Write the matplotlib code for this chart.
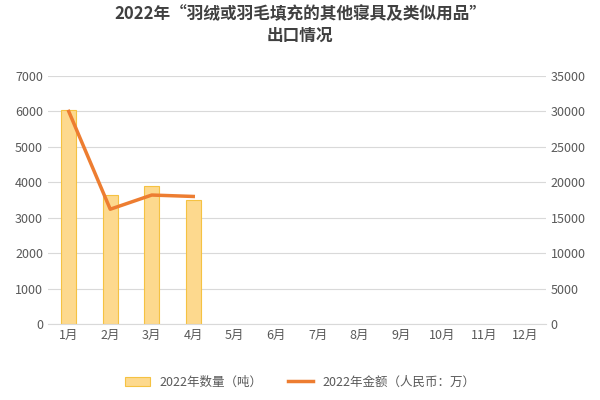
import matplotlib.pyplot as plt

plt.rcParams['font.family'] = ['Noto Sans CJK SC', 'DejaVu Sans']

months = ['1月', '2月', '3月', '4月', '5月', '6月', '7月', '8月', '9月', '10月', '11月', '12月']
qty = [6050, 3640, 3900, 3500]
amount = [30000, 16200, 18200, 18000]

fig = plt.figure(figsize=(6, 4), dpi=100)
ax = fig.add_axes([0.08, 0.19, 0.83, 0.62])
ax2 = ax.twinx()

x = list(range(len(months)))
ax.bar(x[:len(qty)], qty, width=0.35, color='#FDD98E', edgecolor='#F5C242', linewidth=0.8,
       label='2022年数量（吨）', zorder=2)
ax2.plot(x[:len(amount)], amount, color='#ED7D31', linewidth=2.5, label='2022年金额（人民币：万）')

ax.set_xlim(-0.5, 11.5)
ax.set_ylim(0, 7000)
ax2.set_ylim(0, 35000)
ax.set_xticks(x)
ax.set_xticklabels(months)
ax.set_yticks(range(0, 7001, 1000))
ax2.set_yticks(range(0, 35001, 5000))
ax.grid(axis='y', color='#D9D9D9', linewidth=0.8, zorder=0)
ax.set_axisbelow(True)
for a in (ax, ax2):
    for s in a.spines.values():
        s.set_visible(False)
    a.tick_params(length=0, labelsize=9, colors='#595959')
ax.spines['bottom'].set_visible(True)
ax.spines['bottom'].set_color('#D9D9D9')

fig.suptitle('2022年“羽绒或羽毛填充的其他寝具及类似用品”\n出口情况', fontsize=12,
             fontweight='bold', color='#404040', y=0.985)

h1, l1 = ax.get_legend_handles_labels()
h2, l2 = ax2.get_legend_handles_labels()
fig.legend(h1 + h2, l1 + l2, loc='lower center', ncol=2, frameon=False, fontsize=9,
           bbox_to_anchor=(0.5, 0.0), labelcolor='#595959')

fig.savefig('out.png')
